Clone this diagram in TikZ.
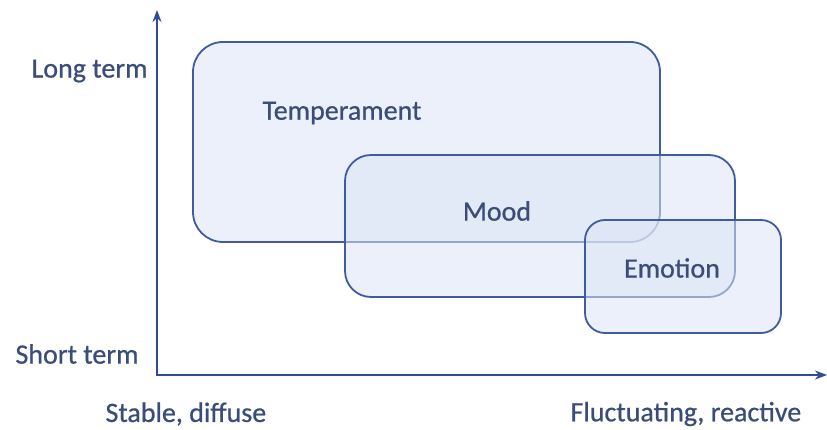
\documentclass[tikz,border=0pt]{standalone}
\usepackage{fontspec}
\setmainfont{Carlito}
\newfontfamily\labelfont{Carlito}[FakeBold=0.7]
\usetikzlibrary{arrows.meta}
\definecolor{axisblue}{HTML}{2F4C9A}
\definecolor{boxline}{HTML}{3F5C9E}
\definecolor{boxfill}{HTML}{DCE4F5}
\definecolor{labeltext}{HTML}{3A4D78}
\tikzset{
  zone/.style={draw=boxline, line width=1.8pt, fill=boxfill, fill opacity=0.55, rounded corners=#1},
  zonelabel/.style={text=labeltext, font=\labelfont\fontsize{28}{32}\selectfont},
  axislabel/.style={text=labeltext, font=\labelfont\fontsize{28}{32}\selectfont},
  axis/.style={draw=axisblue, line width=2.2pt, -{Stealth[length=12pt,width=9pt]}}
}
\begin{document}
\begin{tikzpicture}[x=1pt,y=-1pt]
\useasboundingbox (0,0) rectangle (827,430);
% overlapping time-scale zones
\draw[zone=30pt] (193,42) rectangle (660,242);
\draw[zone=26pt] (345,155) rectangle (735,297);
\draw[zone=20pt] (585,220) rectangle (781,333);
\node[zonelabel] (temp) at (342,113) {Temperament};
\node[zonelabel] (mood) at (497,211) {Mood};
\node[zonelabel] (emo) at (672,268) {Emotion};
% axes
\coordinate (origin) at (157,375);
\coordinate (ytip) at (157,10);
\coordinate (xtip) at (827,375);
\draw[axis] (origin) -- (ytip);
\draw[axis] ([xshift=-1.1pt]origin) -- (xtip);
% axis labels
\node[axislabel, anchor=east] (long) at (151,71) {Long term};
\node[axislabel, anchor=east] (short) at (142,354) {Short term};
\node[axislabel, anchor=west] (stable) at (102,414) {Stable, diffuse};
\node[axislabel, anchor=west] (fluct) at (567,414) {Fluctuating, reactive};
\end{tikzpicture}
\end{document}
